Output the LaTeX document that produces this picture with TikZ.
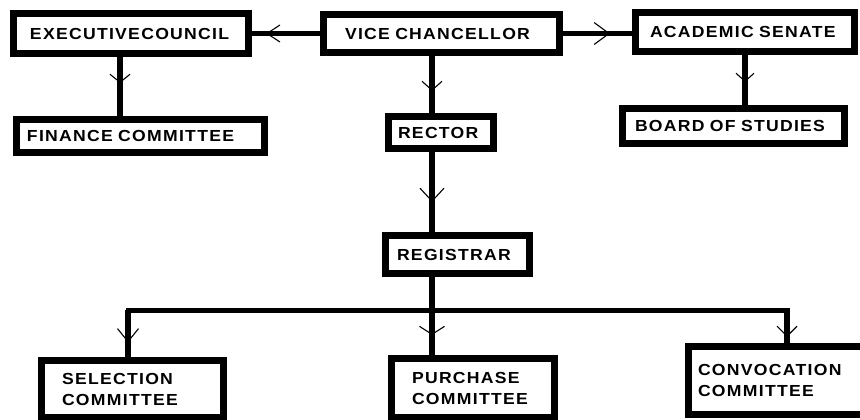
\documentclass[tikz,border=0pt]{standalone}
\usepackage{fontspec}
\newfontfamily\boxfont[LetterSpace=8,FakeStretch=1.1]{Liberation Sans}
\usetikzlibrary{arrows.meta,decorations.markings}
\begin{document}
\begin{tikzpicture}[x=1pt,y=-1pt,
  box/.style={draw, line width=7pt, fill=white, align=left, inner ysep=0pt,
    font=\boxfont\bfseries\fontsize{16}{21}\selectfont},
  conn/.style={line width=5.5pt},
  bus/.style={line width=5pt, line cap=rect},
  tipat/.style n args={3}{postaction={decorate},
    decoration={markings, mark=at position #1 with {\arrow{Straight Barb[length=#2,width=#3,line width=1.1pt]}}}}
]
\useasboundingbox (0,0) rectangle (860,420);

% boxes
\node[box, minimum width=235pt, minimum height=40pt, text width=202pt, inner xsep=16.5pt] (exec) at (131,33.5) {\mbox{EXECUTIVECOUNCIL}};
\node[box, minimum width=236pt, minimum height=38pt, text width=193pt, inner xsep=21.5pt] (vc) at (441.5,33.5) {\mbox{VICE CHANCELLOR}};
\node[box, minimum width=219pt, minimum height=39pt, text width=190pt, inner xsep=14.5pt] (acad) at (745,32) {\mbox{ACADEMIC SENATE}};
\node[box, minimum width=222pt, minimum height=35pt, text width=197pt, inner xsep=12.5pt] (board) at (733.5,126) {\mbox{BOARD OF STUDIES}};
\node[box, minimum width=248pt, minimum height=33pt, text width=227pt, inner xsep=10.5pt] (fin) at (140.5,136) {\mbox{FINANCE COMMITTEE}};
\node[box, minimum width=105pt, minimum height=32pt, text width=86pt, inner xsep=9.5pt] (rector) at (441,132.5) {\mbox{RECTOR}};
\node[box, minimum width=144pt, minimum height=38pt, text width=121pt, inner xsep=11.5pt] (reg) at (457.5,254.5) {\mbox{REGISTRAR}};
\node[box, minimum width=182pt, minimum height=57pt, text width=141pt, inner xsep=20.5pt] (sel) at (132.5,389) {SELECTION\\COMMITTEE};
\node[box, minimum width=163pt, minimum height=59pt, text width=122pt, inner xsep=20.5pt] (pur) at (473,388) {PURCHASE\\COMMITTEE};
\node[box, minimum width=176pt, minimum height=68pt, text width=157pt, inner xsep=9.5pt] (conv) at (776.5,380.5) {CONVOCATION\\COMMITTEE};

% reference coordinates
\coordinate (xa) at (120,0);
\coordinate (xb) at (432,0);
\coordinate (xc) at (745,0);
\coordinate (xs) at (128,0);
\coordinate (xk) at (787,0);
\coordinate (busy) at (0,310);

% connectors
\draw[conn, tipat={54pt}{13pt}{17pt}] (vc.west) -- (exec.east);
\draw[conn, tipat={47pt}{15pt}{22pt}] (vc.east) -- (vc.east -| acad.west);
\draw[conn, tipat={26pt}{8pt}{20pt}] (exec.south -| xa) -- (fin.north -| xa);
\draw[conn, tipat={35pt}{9pt}{20pt}] (vc.south -| xb) -- (rector.north -| xb);
\draw[conn, tipat={27pt}{8pt}{18pt}] (acad.south -| xc) -- (board.north -| xc);
\draw[conn, tipat={50pt}{13pt}{24pt}] (rector.south -| xb) -- (reg.north -| xb);
\draw[conn] (reg.south -| xb) -- (xb |- busy);
\draw[bus] (xs |- busy) -- (xk |- busy);
\draw[conn, tipat={32.5pt}{13pt}{21pt}] (xs |- busy) -- (sel.north -| xs);
\draw[conn, tipat={25pt}{8pt}{25pt}] (xb |- busy) -- (pur.north -| xb);
\draw[conn, tipat={27pt}{10pt}{20pt}] (xk |- busy) -- (conv.north -| xk);
\end{tikzpicture}
\end{document}
